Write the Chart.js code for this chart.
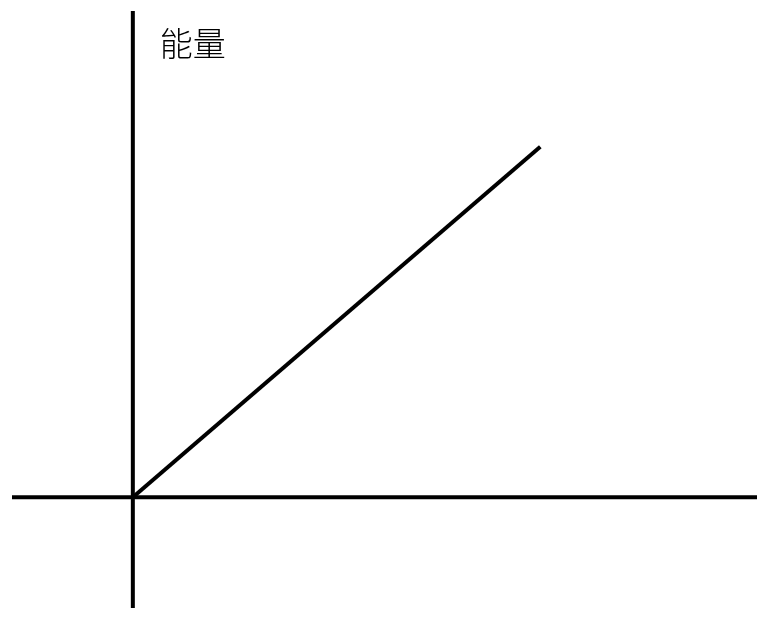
<!DOCTYPE html>
<html>
<head>
<meta charset="utf-8">
<script src="https://cdn.jsdelivr.net/npm/chart.js@4/dist/chart.umd.min.js"></script>
<style>
  html, body { margin: 0; padding: 0; background: #fff; }
  #wrap { width: 762px; height: 617px; }
</style>
</head>
<body>
<div id="wrap"><canvas id="chart"></canvas></div>
<script>
// axis extents (origin at 0,0)
const xAxisLine = [{x: -121, y: 0}, {x: 625, y: 0}];
const yAxisLine = [{x: 0, y: -111}, {x: 0, y: 487}];
// energy rises linearly from the origin
const energyLine = [{x: 0, y: 0}, {x: 408, y: 351}];
const yLabel = "能量";
const yLabelPos = {x: 27, y: 454};

const labelPlugin = {
  id: "axisLabel",
  afterDatasetsDraw(c){
    const ctx = c.ctx;
    const px = c.scales.x.getPixelForValue(yLabelPos.x);
    const py = c.scales.y.getPixelForValue(yLabelPos.y);
    ctx.save();
    ctx.fillStyle = "#000";
    ctx.font = "300 33px 'Noto Sans CJK SC'";
    ctx.textBaseline = "middle";
    ctx.textAlign = "left";
    ctx.fillText(yLabel, px, py);
    ctx.restore();
  }
};

function lineSet(data){
  return {
    data: data,
    borderColor: "#000",
    borderWidth: 4,
    pointRadius: 0,
    showLine: true,
    fill: false
  };
}

new Chart(document.getElementById("chart"), {
  type: "scatter",
  data: {
    datasets: [lineSet(xAxisLine), lineSet(yAxisLine), lineSet(energyLine)]
  },
  options: {
    responsive: true,
    maintainAspectRatio: false,
    animation: false,
    layout: { padding: { left: 12, right: 5, top: 11, bottom: 9 } },
    plugins: { legend: { display: false }, tooltip: { enabled: false } },
    scales: {
      x: { type: "linear", min: -121, max: 625, display: false },
      y: { type: "linear", min: -111, max: 487, display: false }
    }
  },
  plugins: [labelPlugin]
});
</script>
</body>
</html>
